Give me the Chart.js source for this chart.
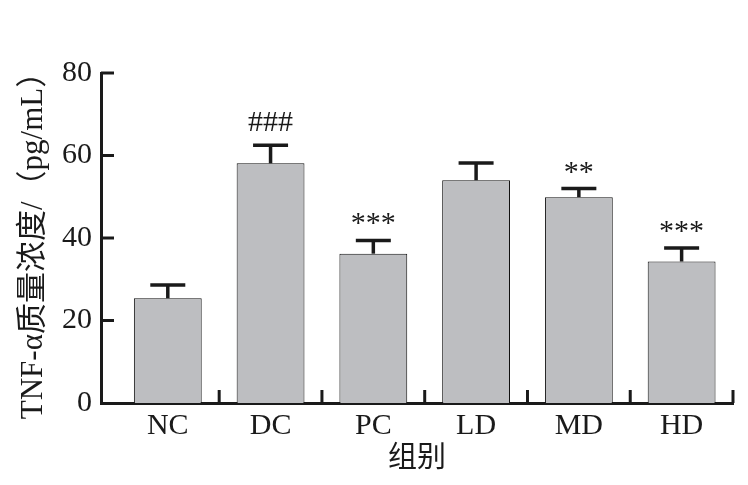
<!DOCTYPE html>
<html>
<head>
<meta charset="utf-8">
<script src="https://cdn.jsdelivr.net/npm/chart.js@4/dist/chart.umd.min.js"></script>
<style>
  html, body { margin: 0; padding: 0; background: #ffffff; }
  #wrap { width: 748px; height: 485px; }
</style>
</head>
<body>
<div id="wrap"><canvas id="c" width="748" height="485"></canvas></div>
<script>
// ---- data ----
const categories = ['NC', 'DC', 'PC', 'LD', 'MD', 'HD'];
const meanValues = [25.4, 58.1, 36.2, 54.0, 49.9, 34.3];
const errorValues = [3.2, 4.4, 3.2, 4.2, 2.1, 3.3];
const markers = ['', '###', '***', '', '**', '***'];
const yTickValues = [0, 20, 40, 60, 80];
const yTitle = 'TNF-α质量浓度/（pg/mL）';
const xTitle = '组别';

const SERIF = "'Liberation Serif', 'Times New Roman', 'Noto Sans CJK SC', serif";

const whiteBg = {
  id: 'whiteBg',
  beforeDraw(chart) {
    const ctx = chart.ctx;
    ctx.save();
    ctx.fillStyle = '#ffffff';
    ctx.fillRect(0, 0, chart.width, chart.height);
    ctx.restore();
  }
};

// inward tick marks for both axes
const innerTicks = {
  id: 'innerTicks',
  afterDraw(chart) {
    const ctx = chart.ctx;
    const xs = chart.scales.x, ys = chart.scales.y;
    const area = chart.chartArea;
    const len = 13;
    ctx.save();
    ctx.strokeStyle = '#1a1a1a';
    ctx.lineWidth = 3;
    ctx.lineCap = 'butt';
    yTickValues.forEach(v => {
      if (v === 0) return;
      const y = ys.getPixelForValue(v);
      ctx.beginPath();
      ctx.moveTo(area.left, y);
      ctx.lineTo(area.left + len, y);
      ctx.stroke();
    });
    categories.forEach((c, i) => {
      const x = xs.getPixelForValue(i + 0.5);
      ctx.beginPath();
      ctx.moveTo(x, area.bottom);
      ctx.lineTo(x, area.bottom - len);
      ctx.stroke();
    });
    ctx.restore();
  }
};

// error bars (upper only) and significance markers
const errorBars = {
  id: 'errorBars',
  afterDatasetsDraw(chart) {
    const ctx = chart.ctx;
    const xs = chart.scales.x, ys = chart.scales.y;
    const capHalf = 17.5;
    ctx.save();
    ctx.strokeStyle = '#1a1a1a';
    ctx.lineWidth = 3.5;
    meanValues.forEach((m, i) => {
      const x = xs.getPixelForValue(i);
      const yBar = ys.getPixelForValue(m);
      const yTop = ys.getPixelForValue(m + errorValues[i]);
      ctx.beginPath();
      ctx.moveTo(x, yBar);
      ctx.lineTo(x, yTop);
      ctx.stroke();
      ctx.beginPath();
      ctx.moveTo(x - capHalf, yTop);
      ctx.lineTo(x + capHalf, yTop);
      ctx.stroke();
      const mk = markers[i];
      if (mk) {
        ctx.fillStyle = '#1a1a1a';
        ctx.textAlign = 'center';
        ctx.textBaseline = 'alphabetic';
        ctx.font = '30px ' + SERIF;
        const isHash = mk.indexOf('#') >= 0;
        ctx.fillText(mk, x, yTop - (isHash ? 14 : 8));
      }
    });
    ctx.restore();
  }
};

new Chart(document.getElementById('c'), {
  type: 'bar',
  data: {
    datasets: [{
      data: meanValues.map((v, i) => ({ x: i, y: v })),
      backgroundColor: '#bdbec1',
      borderColor: '#111111',
      borderWidth: 1,
      borderSkipped: 'start',
      categoryPercentage: 1,
      barPercentage: 0.66
    }]
  },
  options: {
    responsive: false,
    animation: false,
    layout: { padding: { top: 73, right: 15, left: 0, bottom: 0 } },
    plugins: {
      legend: { display: false },
      tooltip: { enabled: false }
    },
    scales: {
      x: {
        type: 'linear',
        offset: false,
        min: -0.65,
        max: 5.5,
        afterBuildTicks(scale) {
          scale.ticks = categories.map((c, i) => ({ value: i }));
        },
        afterFit(scale) { scale.height = 82; },
        grid: { display: false, drawTicks: false, offset: false },
        border: { display: true, color: '#1a1a1a', width: 3 },
        ticks: {
          autoSkip: false,
          maxRotation: 0,
          padding: 5,
          color: '#1a1a1a',
          font: { family: SERIF, size: 30 },
          callback: (v) => categories[v] !== undefined ? categories[v] : ''
        },
        title: {
          display: true,
          text: xTitle,
          color: '#1a1a1a',
          font: { family: SERIF, size: 29 },
          padding: { top: 0, bottom: 8 }
        }
      },
      y: {
        min: 0,
        max: 80,
        afterBuildTicks(scale) {
          scale.ticks = yTickValues.map(v => ({ value: v }));
        },
        afterFit(scale) { scale.width = 101; },
        grid: { display: false, drawTicks: false },
        border: { display: true, color: '#1a1a1a', width: 3 },
        ticks: {
          padding: 9,
          color: '#1a1a1a',
          font: { family: SERIF, size: 30 }
        },
        title: {
          display: true,
          text: yTitle,
          color: '#1a1a1a',
          font: { family: SERIF, size: 31 },
          padding: { top: 15, bottom: 0 }
        }
      }
    }
  },
  plugins: [whiteBg, errorBars, innerTicks]
});
</script>
</body>
</html>
